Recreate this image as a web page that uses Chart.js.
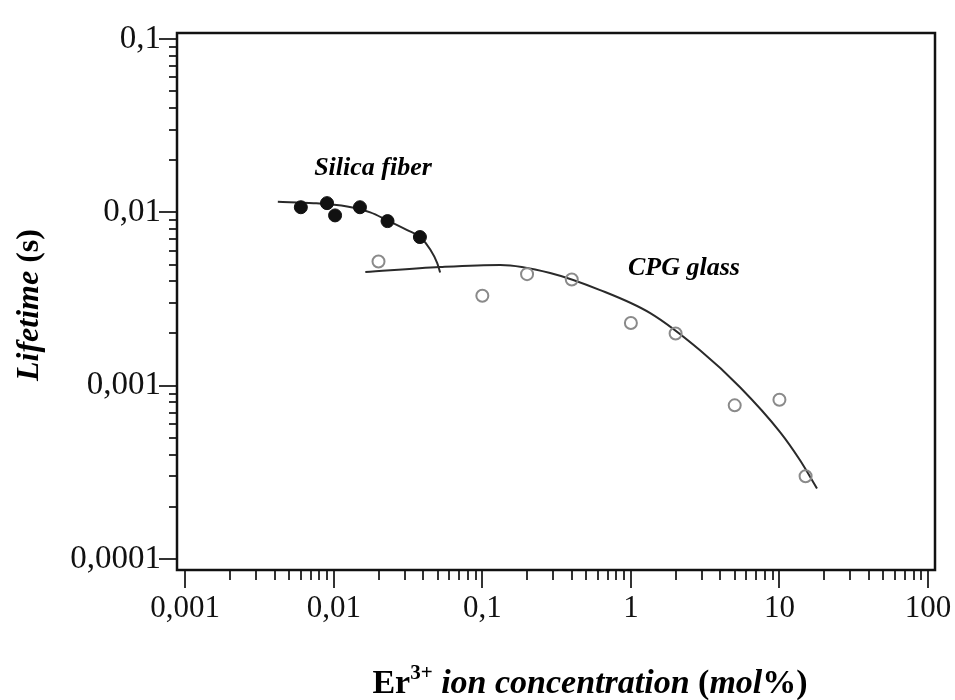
<!DOCTYPE html>
<html>
<head>
<meta charset="utf-8">
<script src="https://cdn.jsdelivr.net/npm/chart.js@4.4.1/dist/chart.umd.min.js"></script>
<style>
  html, body { margin: 0; padding: 0; background: #fff; }
  #wrap { width: 955px; height: 700px; }
</style>
</head>
<body>
<div id="wrap"><canvas id="grafico" width="955" height="700"></canvas></div>
<script>
// valores (log-log)
const silicaX = [0.006, 0.009, 0.0102, 0.015, 0.023, 0.038];
const silicaY = [0.0107, 0.0113, 0.0096, 0.0107, 0.0089, 0.0072];

const cpgX = [0.02, 0.1, 0.2, 0.4, 1, 2, 5, 10, 15];
const cpgY = [0.0052, 0.0033, 0.0044, 0.0041, 0.0023, 0.0020, 0.00077, 0.00083, 0.0003];

// curvas de ajuste
const silicaFitX = [0.0042, 0.0073, 0.0123, 0.0176, 0.0229, 0.0312, 0.0381, 0.0446, 0.0497, 0.052];
const silicaFitY = [0.0115, 0.0113, 0.0108, 0.0100, 0.0090, 0.0079, 0.0072, 0.0061, 0.0051, 0.0045];

const cpgFitX = [0.0163, 0.052, 0.132, 0.286, 0.621, 1.35, 2.92, 5.43, 10.1, 13.8, 17.9];
const cpgFitY = [0.00452, 0.00483, 0.00497, 0.00447, 0.00356, 0.00262, 0.0016, 0.00098, 0.00054, 0.00037, 0.000255];

const xDecadas = [0.001, 0.01, 0.1, 1, 10, 100];
const xRotulos = ['0,001', '0,01', '0,1', '1', '10', '100'];
const yDecadas = [0.0001, 0.001, 0.01, 0.1];
const yRotulos = ['0,0001', '0,001', '0,01', '0,1'];

function pares(xs, ys){
    return xs.map((x, i) => ({x: x, y: ys[i]}));
}

// decadas + subdivisoes 2..9
function ticks_log(decadas){
    let out = [];
    decadas.forEach((d, i) => {
        out.push(d);
        if(i < decadas.length - 1){
            for(let k = 2; k <= 9; k++){
                out.push(+(d * k).toPrecision(3));
            }
        }
    });
    return out;
}

function eh_decada(lista, v){
    return lista.some(d => Math.abs(v / d - 1) < 1e-6);
}

function rotulo(lista, rots, v){
    for(let i = 0; i < lista.length; i++){
        if(Math.abs(v / lista[i] - 1) < 1e-6) return rots[i];
    }
    return '';
}

const serif = "'Liberation Serif', 'Times New Roman', serif";

const molduraETextos = {
    id: 'molduraETextos',
    afterDraw(chart){
        const ctx = chart.ctx;
        const a = chart.chartArea;
        const xs = chart.scales.x;
        const ys = chart.scales.y;
        ctx.save();

        // marcas dos eixos
        ctx.strokeStyle = '#333';
        ctx.lineWidth = 2;
        xs.ticks.forEach(t => {
            const px = Math.round(xs.getPixelForValue(t.value));
            const len = eh_decada(xDecadas, t.value) ? 18 : 10;
            ctx.beginPath();
            ctx.moveTo(px, a.bottom);
            ctx.lineTo(px, a.bottom + len);
            ctx.stroke();
        });
        ys.ticks.forEach(t => {
            const py = Math.round(ys.getPixelForValue(t.value));
            const len = eh_decada(yDecadas, t.value) ? 18 : 8;
            ctx.beginPath();
            ctx.moveTo(a.left, py);
            ctx.lineTo(a.left - len, py);
            ctx.stroke();
        });

        // moldura
        ctx.strokeStyle = '#111';
        ctx.lineWidth = 2.5;
        ctx.strokeRect(a.left, a.top, a.right - a.left, a.bottom - a.top);

        ctx.fillStyle = '#000';
        ctx.textBaseline = 'alphabetic';

        // anotacoes
        ctx.font = "italic bold 26px " + serif;
        ctx.textAlign = 'center';
        ctx.fillText('Silica fiber', 373, 175);
        ctx.fillText('CPG glass', 684, 275);

        // titulo eixo x (estilos mistos)
        const partes = [
            {t: 'Er', f: "bold 34px " + serif, dy: 0},
            {t: '3+', f: "bold 21px " + serif, dy: -14},
            {t: ' ion concentration ', f: "italic bold 34px " + serif, dy: 0},
            {t: '(', f: "bold 34px " + serif, dy: 0},
            {t: 'mol', f: "italic bold 34px " + serif, dy: 0},
            {t: '%)', f: "bold 34px " + serif, dy: 0}
        ];
        let total = 0;
        partes.forEach(p => { ctx.font = p.f; p.w = ctx.measureText(p.t).width; total += p.w; });
        let x0 = 590 - total / 2;
        ctx.textAlign = 'left';
        partes.forEach(p => {
            ctx.font = p.f;
            ctx.fillText(p.t, x0, 693 + p.dy);
            x0 += p.w;
        });

        // titulo eixo y
        ctx.translate(38, 305);
        ctx.rotate(-Math.PI / 2);
        const partesY = [
            {t: 'Lifetime ', f: "italic bold 32px " + serif},
            {t: '(s)', f: "bold 32px " + serif}
        ];
        let totY = 0;
        partesY.forEach(p => { ctx.font = p.f; p.w = ctx.measureText(p.t).width; totY += p.w; });
        let y0 = -totY / 2;
        partesY.forEach(p => {
            ctx.font = p.f;
            ctx.fillText(p.t, y0, 0);
            y0 += p.w;
        });

        ctx.restore();
    }
};

const ctx = document.getElementById('grafico').getContext('2d');
const myChart = new Chart(ctx, {
    type: 'scatter',
    data: {
        datasets: [
            {
                label: 'Silica fiber',
                data: pares(silicaX, silicaY),
                backgroundColor: '#111',
                borderColor: '#111',
                pointRadius: 6.5,
                pointBorderWidth: 1,
                showLine: false
            },
            {
                label: 'CPG glass',
                data: pares(cpgX, cpgY),
                backgroundColor: 'rgba(255,255,255,0)',
                borderColor: '#8a8a8a',
                pointRadius: 6,
                pointBorderWidth: 2,
                showLine: false
            },
            {
                label: 'ajuste silica',
                data: pares(silicaFitX, silicaFitY),
                borderColor: '#2a2a2a',
                borderWidth: 2,
                pointRadius: 0,
                showLine: true,
                cubicInterpolationMode: 'monotone'
            },
            {
                label: 'ajuste CPG',
                data: pares(cpgFitX, cpgFitY),
                borderColor: '#2a2a2a',
                borderWidth: 2,
                pointRadius: 0,
                showLine: true,
                cubicInterpolationMode: 'monotone'
            }
        ]
    },
    options: {
        responsive: false,
        animation: false,
        layout: { padding: { top: 33, right: 20, left: 0, bottom: 0 } },
        plugins: {
            legend: { display: false },
            tooltip: { enabled: false }
        },
        scales: {
            x: {
                type: 'logarithmic',
                min: 0.00088,
                max: 111.5,
                border: { display: false },
                grid: { display: false, drawTicks: false },
                afterBuildTicks: function(scale){
                    scale.ticks = ticks_log(xDecadas).map(v => ({value: v}));
                },
                afterFit: function(scale){
                    scale.height = 130;
                    scale.paddingLeft = 0;
                    scale.paddingRight = 0;
                },
                ticks: {
                    autoSkip: false,
                    maxRotation: 0,
                    padding: 20,
                    color: '#111',
                    font: { family: serif, size: 31 },
                    callback: function(value){ return rotulo(xDecadas, xRotulos, value); }
                }
            },
            y: {
                type: 'logarithmic',
                min: 0.0000864,
                max: 0.1083,
                border: { display: false },
                grid: { display: false, drawTicks: false },
                afterBuildTicks: function(scale){
                    scale.ticks = ticks_log(yDecadas).map(v => ({value: v}));
                },
                afterFit: function(scale){
                    scale.width = 177;
                    scale.paddingTop = 0;
                    scale.paddingBottom = 0;
                },
                ticks: {
                    autoSkip: false,
                    padding: 16,
                    color: '#111',
                    font: { family: serif, size: 33 },
                    callback: function(value){ return rotulo(yDecadas, yRotulos, value); }
                }
            }
        }
    },
    plugins: [molduraETextos]
});
</script>
</body>
</html>
